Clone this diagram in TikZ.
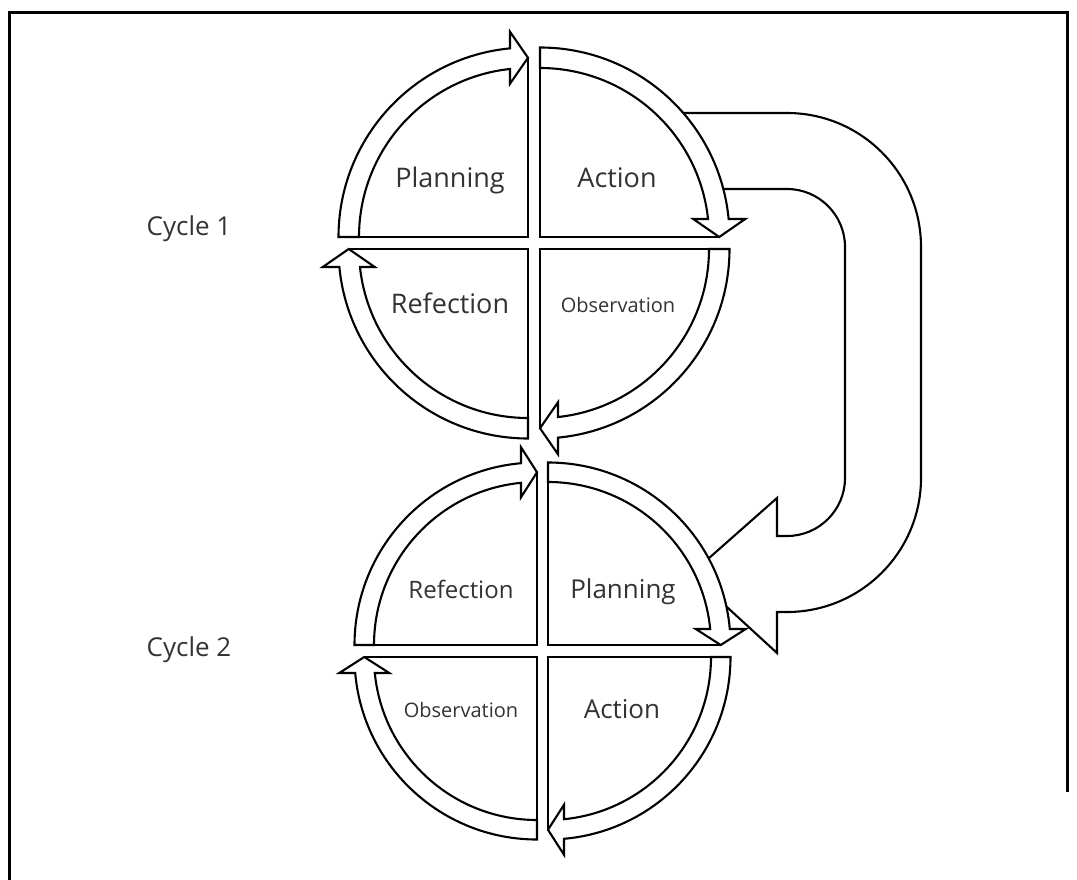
\documentclass[tikz,border=0pt]{standalone}
\usepackage{fontspec}
\setmainfont{Open Sans}
\tikzset{
  qband/.style={draw=black, fill=white, line width=2.1pt, line join=miter},
  qline/.style={draw=black, line width=2.1pt},
  uarrow/.style={draw=black, fill=white, line width=2.1pt, line join=miter},
  lbl/.style={text=black!80, anchor=base, inner sep=0pt},
  frameline/.style={draw=black, line width=3pt}
}
% #1,#2 corner; #3 start angle; #4 end angle; #5 inner r; #6 outer r; #7 head length; #8 head half-width
\newcommand\qarrow[8]{%
  \begin{scope}[shift={(#1,#2)}]
    \pgfmathsetmacro\qrm{(#5+#6)/2}
    \pgfmathsetmacro\qai{#4+asin(#7/#5)}
    \pgfmathsetmacro\qao{#4+asin(#7/#6)}
    \fill[white] (0,0) -- (#3:#5) arc[start angle=#3, end angle=#4, radius=#5] -- cycle;
    \draw[qline] (#3:#5) -- (0,0) -- (#4:\qrm);
    \draw[qband] (#3:#6) -- (#3:#5) arc[start angle=#3, end angle=\qai, radius=#5]
      -- ({(\qrm-#8)*cos(#4)-#7*sin(#4)},{(\qrm-#8)*sin(#4)+#7*cos(#4)})
      -- (#4:\qrm)
      -- ({(\qrm+#8)*cos(#4)-#7*sin(#4)},{(\qrm+#8)*sin(#4)+#7*cos(#4)})
      -- (\qao:#6) arc[start angle=\qao, end angle=#3, radius=#6] -- cycle;
  \end{scope}}
\begin{document}
\begin{tikzpicture}[x=1pt, y=1pt]
\useasboundingbox (0,0) rectangle (1077,-880);
% frame
\draw[frameline] (9.5,-885) -- (9.5,-13) -- (1067,-13) -- (1067,-792);

% big U-turn arrow (behind the cycles)
\draw[uarrow] (640,-113) -- (787,-113) arc[start angle=90, end angle=0, radius=134]
  -- (921,-478) arc[start angle=0, end angle=-90, radius=134]
  -- (777,-612) -- (777,-653) -- (691,-574) -- (777,-498) -- (777,-536)
  -- (787,-536) arc[start angle=-90, end angle=0, radius=58]
  -- (845,-247) arc[start angle=0, end angle=90, radius=58]
  -- (640,-189) -- cycle;

% cycle 1
\qarrow{528}{-237}{180}{90}{169}{189.5}{18}{26}
\qarrow{540}{-237}{90}{0}{169}{189.5}{18}{26}
\qarrow{540}{-249}{0}{-90}{169}{189.5}{18}{26}
\qarrow{528}{-249}{-90}{-180}{169}{189.5}{18}{26}

% cycle 2
\qarrow{537}{-645}{180}{90}{163}{182.5}{16}{25}
\qarrow{548}{-645}{90}{0}{163}{182.5}{16}{25}
\qarrow{548}{-657}{0}{-90}{163}{182.5}{16}{25}
\qarrow{537}{-657}{-90}{-180}{163}{182.5}{16}{25}

% labels
\node[lbl, font=\fontsize{26}{30}\selectfont] (c1) at (189,-235) {Cycle 1};
\node[lbl, font=\fontsize{26}{30}\selectfont] (c2) at (189,-656) {Cycle 2};

\node[lbl, font=\fontsize{27}{30}\selectfont] (p1) at (450,-188) {Planning};
\node[lbl, font=\fontsize{27}{30}\selectfont] (a1) at (617,-188) {Action};
\node[lbl, font=\fontsize{27}{30}\selectfont] (r1) at (450,-313) {Refection};
\node[lbl, font=\fontsize{20}{24}\selectfont] (o1) at (618,-312) {Observation};

\node[lbl, font=\fontsize{24}{28}\selectfont] (r2) at (461,-598) {Refection};
\node[lbl, font=\fontsize{26}{30}\selectfont] (p2) at (623,-598) {Planning};
\node[lbl, font=\fontsize{20}{24}\selectfont] (o2) at (461,-717) {Observation};
\node[lbl, font=\fontsize{26}{30}\selectfont] (a2) at (622,-718) {Action};
\end{tikzpicture}
\end{document}
